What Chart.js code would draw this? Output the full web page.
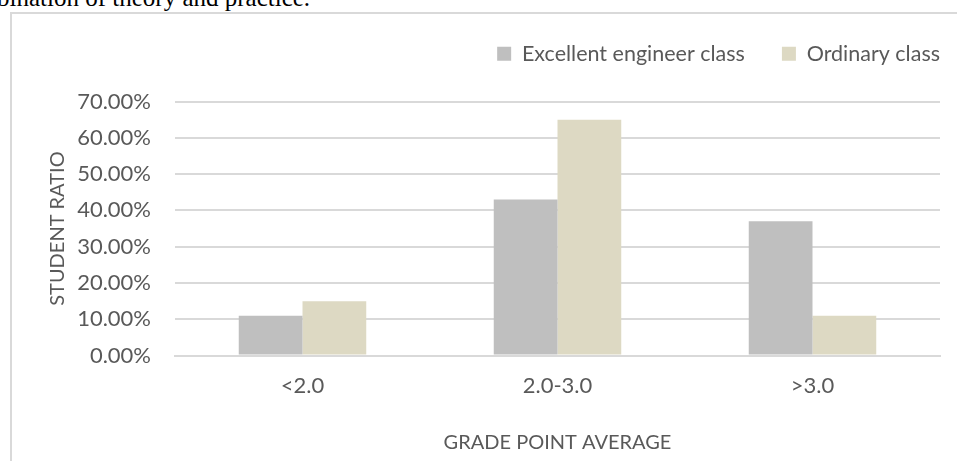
<!DOCTYPE html>
<html>
<head>
<meta charset="utf-8">
<script src="https://cdn.jsdelivr.net/npm/chart.js@4"></script>
<style>
  body { margin: 0; width: 957px; height: 461px; overflow: hidden; background: #fff; position: relative; }
  #caption { position: absolute; left: -3px; top: -17px; font-family: "Liberation Serif", serif; font-size: 25px; color: #000; white-space: nowrap; line-height: 30px; }
  #frame { position: absolute; left: 10px; top: 12px; width: 947px; height: 449px; border-left: 2px solid #d9d9d9; border-top: 2px solid #d9d9d9; box-sizing: border-box; }
  #wrap { position: absolute; left: 12px; top: 6px; width: 965px; height: 455px; }
</style>
</head>
<body>
<div id="caption">bination of theory and practice.</div>
<div id="frame"></div>
<div id="wrap"><canvas id="gpaChart"></canvas></div>
<script>
const categories = ['<2.0', '2.0-3.0', '>3.0'];
const excellentValues = [11, 43, 37];
const ordinaryValues = [15, 65, 11];
const yTicks = [0, 10, 20, 30, 40, 50, 60, 70];

const textColor = '#595959';
const gridColor = '#d9d9d9';
const fontFamily = 'Lato, "Liberation Sans", sans-serif';

// push the plot down a bit below the legend
const legendSpacer = {
  id: 'legendSpacer',
  beforeInit(chart) {
    const origFit = chart.legend.fit;
    chart.legend.fit = function () {
      origFit.bind(chart.legend)();
      this.height += 27;
    };
  }
};

const ctx = document.getElementById('gpaChart').getContext('2d');

const gpaChart = new Chart(ctx, {
  type: 'bar',
  data: {
    labels: categories,
    datasets: [
      {
        label: 'Excellent engineer class',
        data: excellentValues,
        backgroundColor: '#bfbfbf',
        categoryPercentage: 0.5,
        barPercentage: 1.0,
      },
      {
        label: 'Ordinary class',
        data: ordinaryValues,
        backgroundColor: '#ddd9c3',
        categoryPercentage: 0.5,
        barPercentage: 1.0,
      }
    ]
  },
  plugins: [legendSpacer],
  options: {
    animation: false,
    responsive: true,
    maintainAspectRatio: false,
    layout: {
      padding: { left: 34, right: 0, top: 0, bottom: 0 }
    },
    plugins: {
      tooltip: { enabled: false },
      legend: {
        position: 'top',
        align: 'end',
        labels: {
          color: textColor,
          font: { family: fontFamily, size: 21.5 },
          boxWidth: 14,
          boxHeight: 14,
          padding: 37,
        }
      }
    },
    scales: {
      x: {
        grid: { display: false, drawTicks: false },
        border: { color: gridColor, width: 2 },
        ticks: {
          color: textColor,
          font: { family: fontFamily, size: 22 },
          padding: 17,
        },
        title: {
          display: true,
          text: 'GRADE POINT AVERAGE',
          color: textColor,
          font: { family: fontFamily, size: 20 },
          padding: { top: 15, bottom: 6 },
        }
      },
      y: {
        min: 0,
        max: 70,
        afterBuildTicks: (axis) => {
          axis.ticks = yTicks.map(v => ({ value: v }));
        },
        afterFit: (axis) => {
          axis.width = 129;
        },
        grid: { color: gridColor, lineWidth: 2, drawTicks: false },
        border: { display: false },
        ticks: {
          color: textColor,
          font: { family: fontFamily, size: 22 },
          padding: 24,
          callback: (v) => v.toFixed(2) + '%',
        },
        title: {
          display: true,
          text: 'STUDENT RATIO',
          color: textColor,
          font: { family: fontFamily, size: 20 },
          padding: 0,
        }
      },
      // empty right-hand axis, only there to keep the plot off the right edge
      yRight: {
        position: 'right',
        grid: { display: false, drawTicks: false },
        border: { display: false },
        ticks: { display: false },
        afterFit: (axis) => {
          axis.width = 37;
        }
      }
    }
  }
});
</script>
</body>
</html>
